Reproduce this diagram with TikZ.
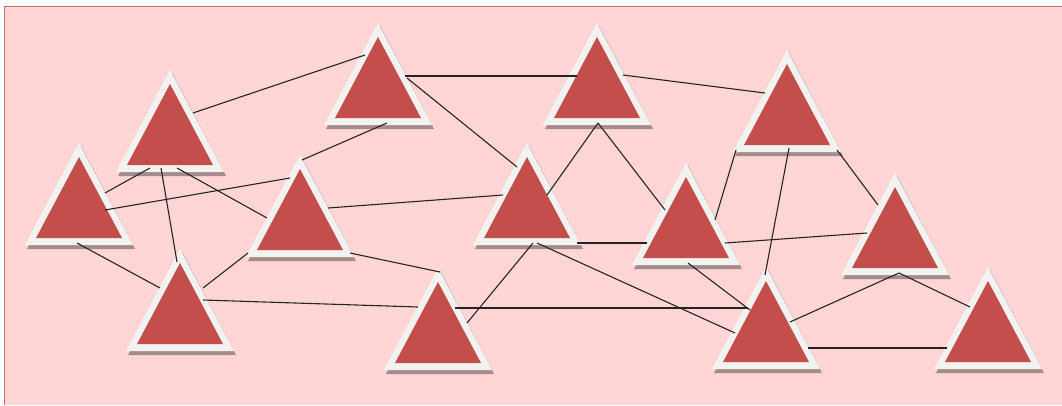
\documentclass[tikz,border=0pt]{standalone}
\usetikzlibrary{calc}
\definecolor{bgpink}{RGB}{255,213,213}
\definecolor{framec}{RGB}{190,110,110}
\definecolor{tred}{RGB}{196,78,76}
\definecolor{tedge}{RGB}{242,243,240}
\definecolor{shadowc}{RGB}{165,140,140}
\definecolor{linec}{RGB}{40,35,35}
\tikzset{
  tri/.pic={
    \fill[shadowc] (-52,11) -- (2,-92) -- (56,11) -- cycle;
    \fill[tedge] (-54,7) -- (0,-95) -- (54,7) -- cycle;
    \fill[tred] (-43,0) -- (0,-81) -- (43,0) -- cycle;
  },
  base/.style={inner sep=0pt, minimum size=0pt},
  conn/.style={draw=linec, line width=1.1pt},
}
\begin{document}
\begin{tikzpicture}[x=1pt,y=-1pt]
\useasboundingbox (0,0) rectangle (1062,405);
\fill[white] (0,0) rectangle (1062,405);
\fill[bgpink] (4.5,6.5) rectangle (1062,405);
\draw[framec, line width=1.2pt] (4.5,405) -- (4.5,6.5) -- (1062,6.5);
% triangle nodes (red base centres)
\node[base] (t1) at (79,238) {};
\node[base] (t2) at (170,165) {};
\node[base] (t3) at (378,118) {};
\node[base] (t4) at (597,118) {};
\node[base] (t5) at (787,145) {};
\node[base] (t6) at (527,238) {};
\node[base] (t7) at (300,250) {};
\node[base] (t8) at (686,258) {};
\node[base] (t9) at (895,268) {};
\node[base] (t10) at (180,344) {};
\node[base] (t11) at (438,363) {};
\node[base] (t12) at (766,362) {};
\node[base] (t13) at (988,362) {};
\foreach \t in {t1,t2,t3,t4,t5,t6,t7,t8,t9,t10,t11,t12,t13}
  \pic at (\t) {tri};
% connectors
\draw[conn] ($(t2)+(23,-52)$) -- ($(t3)+(-13,-63)$);
\draw[conn] ($(t3)+(27,-42)$) -- ($(t4)+(-20,-42)$);
\draw[conn] ($(t4)+(26,-43)$) -- ($(t5)+(-22,-52)$);
\draw[conn] ($(t3)+(29,-40)$) -- ($(t6)+(-10,-71)$);
\draw[conn] ($(t4)+(1,5)$) -- ($(t6)+(20,-43)$);
\draw[conn] ($(t4)+(1,5)$) -- ($(t8)+(-21,-48)$);
\draw[conn] ($(t5)+(-51,5)$) -- ($(t8)+(29,-38)$);
\draw[conn] ($(t5)+(2,3)$) -- ($(t12)+(-1,-87)$);
\draw[conn] ($(t5)+(50,5)$) -- ($(t9)+(-17,-63)$);
\draw[conn] ($(t1)+(26,-45)$) -- ($(t2)+(-20,3)$);
\draw[conn] ($(t2)+(-9,3)$) -- ($(t10)+(-3,-82)$);
\draw[conn] ($(t2)+(7,3)$) -- ($(t7)+(-33,-32)$);
\draw[conn] ($(t1)+(26,-28)$) -- ($(t7)+(-10,-72)$);
\draw[conn] ($(t7)+(2,-90)$) -- ($(t3)+(9,5)$);
\draw[conn] ($(t7)+(28,-42)$) -- ($(t6)+(-24,-43)$);
\draw[conn] ($(t7)+(50,3)$) -- ($(t11)+(2,-91)$);
\draw[conn] ($(t1)+(-2,5)$) -- ($(t10)+(-20,-56)$);
\draw[conn] ($(t10)+(23,-56)$) -- ($(t7)+(-52,3)$);
\draw[conn] ($(t10)+(23,-44)$) -- ($(t11)+(-20,-56)$);
\draw[conn] ($(t11)+(17,-55)$) -- ($(t12)+(-18,-54)$);
\draw[conn] ($(t11)+(29,-40)$) -- ($(t6)+(6,5)$);
\draw[conn] ($(t6)+(10,5)$) -- ($(t12)+(-31,-29)$);
\draw[conn] ($(t6)+(50,5)$) -- ($(t8)+(-39,-15)$);
\draw[conn] ($(t8)+(2,5)$) -- ($(t12)+(-16,-52)$);
\draw[conn] ($(t8)+(39,-15)$) -- ($(t9)+(-28,-35)$);
\draw[conn] ($(t9)+(4,5)$) -- ($(t12)+(24,-40)$);
\draw[conn] ($(t9)+(4,5)$) -- ($(t13)+(-18,-55)$);
\draw[conn] ($(t12)+(42,-14)$) -- ($(t13)+(-41,-14)$);
\end{tikzpicture}
\end{document}
